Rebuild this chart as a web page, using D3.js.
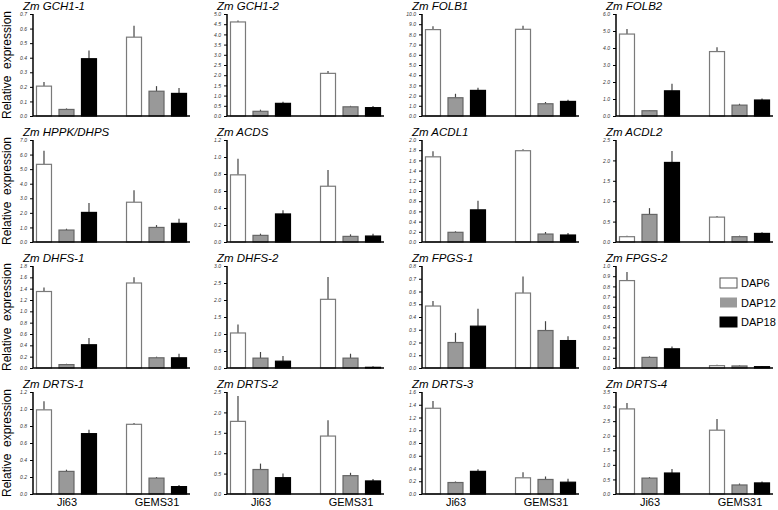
<!DOCTYPE html>
<html><head><meta charset="utf-8">
<script src="https://cdn.jsdelivr.net/npm/d3@7/dist/d3.min.js"></script>
<style>body{margin:0;background:#fff}svg{display:block}text{font-family:"Liberation Sans",Arial,sans-serif}</style>
</head><body><svg id="c" width="778" height="510"></svg>
<script>
const genes = ["GCH1-1","GCH1-2","FOLB1","FOLB2","HPPK/DHPS","ACDS","ACDL1","ACDL2","DHFS-1","DHFS-2","FPGS-1","FPGS-2","DRTS-1","DRTS-2","DRTS-3","DRTS-4"];
const lines = ["Ji63","GEMS31"];
const series = ["DAP6","DAP12","DAP18"];
const yMax  = [0.7,5.0,10.0,6.0, 7.0,1.2,2.0,2.5, 1.8,3.0,0.8,1.0, 1.2,2.5,1.6,3.5];
const yStep = [0.1,0.5,1.0,1.0, 1.0,0.2,0.2,0.5, 0.2,0.5,0.1,0.1, 0.2,0.5,0.2,0.5];
// values per gene: [Ji63, GEMS31]
const dap6 = [[0.205,0.541],[4.61,2.09],[8.47,8.5],[4.82,3.79],[5.33,2.73],[0.79,0.656],[1.67,1.79],[0.13,0.61],[1.35,1.5],[1.03,2.02],[0.486,0.588],[0.857,0.023],[0.99,0.82],[1.78,1.42],[1.345,0.254],[2.92,2.19]];
const dap6Err = [[0.029,0.079],[0.07,0.12],[0.33,0.36],[0.30,0.25],[0.94,0.82],[0.19,0.19],[0.11,0.03],[0.025,0.03],[0.07,0.1],[0.25,0.66],[0.039,0.129],[0.083,0.009],[0.1,0.014],[0.62,0.39],[0.112,0.086],[0.2,0.38]];
const dap12 = [[0.045,0.17],[0.23,0.45],[1.79,1.2],[0.31,0.64],[0.82,1.0],[0.078,0.066],[0.19,0.156],[0.676,0.13],[0.06,0.18],[0.29,0.29],[0.20,0.294],[0.104,0.02],[0.266,0.187],[0.6,0.45],[0.18,0.228],[0.545,0.31]];
const dap12Err = [[0.007,0.035],[0.08,0.05],[0.39,0.17],[0.04,0.08],[0.09,0.16],[0.02,0.024],[0.02,0.04],[0.154,0.025],[0.015,0.02],[0.18,0.13],[0.076,0.073],[0.01,0.006],[0.02,0.013],[0.145,0.07],[0.016,0.047],[0.035,0.05]];
const dap18 = [[0.393,0.155],[0.62,0.41],[2.51,1.43],[1.48,0.94],[2.03,1.28],[0.33,0.07],[0.63,0.137],[1.95,0.21],[0.41,0.18],[0.2,0.02],[0.328,0.215],[0.188,0.013],[0.71,0.087],[0.4,0.32],[0.355,0.185],[0.72,0.38]];
const dap18Err = [[0.057,0.038],[0.08,0.08],[0.26,0.17],[0.41,0.09],[0.64,0.32],[0.045,0.028],[0.18,0.04],[0.28,0.03],[0.12,0.07],[0.15,0.03],[0.137,0.034],[0.022,0.007],[0.045,0.02],[0.1,0.05],[0.035,0.053],[0.14,0.05]];

const vals = [dap6, dap12, dap18];
const errs = [dap6Err, dap12Err, dap18Err];
const fills = ["#ffffff","#999999","#000000"];
const strokes = ["#7a7a7a","#666666","#000000"];

const svg = d3.select("#c");
const defs = svg.append("defs");
const pat = defs.append("pattern").attr("id","chk").attr("width",2).attr("height",2).attr("patternUnits","userSpaceOnUse");
pat.append("rect").attr("width",2).attr("height",2).attr("fill","#bdbdbd");
pat.append("rect").attr("width",1).attr("height",1).attr("fill","#777");
pat.append("rect").attr("x",1).attr("y",1).attr("width",1).attr("height",1).attr("fill","#777");

const colX = [33,227,422,616];
const rowBottom = [116,242,368,494];
const W = 157, H = 102;

const gx = d3.scalePoint().domain(lines).range([0,W]).padding(0.372);
const bx = d3.scaleBand().domain(series).range([-33.75,33.75]).paddingInner(1/3).paddingOuter(1/6);

genes.forEach((gene,i)=>{
  const r = Math.floor(i/4), c = i%4;
  const g = svg.append("g").attr("transform",`translate(${colX[c]},${rowBottom[r]-H})`);
  const y = d3.scaleLinear().domain([0,yMax[i]]).range([H,0]);
  const tv = d3.range(0, yMax[i]+yStep[i]/2, yStep[i]);
  // bars
  lines.forEach((ln,li)=>{
    series.forEach((s,si)=>{
      const v = vals[si][i][li], e = errs[si][i][li];
      const x0 = gx(ln)+bx(s);
      const cx = x0 + bx.bandwidth()/2;
      g.append("line").attr("x1",cx).attr("x2",cx).attr("y1",y(v)).attr("y2",y(v+e))
        .attr("stroke","#444").attr("stroke-width",1.2);
      g.append("rect").attr("x",x0).attr("y",y(v)).attr("width",bx.bandwidth()).attr("height",H-y(v))
        .attr("fill",fills[si]).attr("stroke",strokes[si]).attr("stroke-width",1.2);
    });
  });
  // y axis
  const ya = d3.axisLeft(y).tickValues(tv).tickSize(3).tickPadding(3).tickFormat(d3.format(".1f"));
  const yg = g.append("g").call(ya);
  yg.select(".domain").attr("stroke","#000").attr("stroke-width",1.5).attr("d",`M0,${H}V0`);
  yg.selectAll(".tick line").attr("stroke","#000");
  yg.selectAll(".tick text").attr("font-size",5).attr("font-style","italic").attr("fill","#333")
    .style("font-family","'Liberation Sans',Arial,sans-serif");
  // x axis
  const xa = d3.axisBottom(gx).tickSize(0).tickPadding(4);
  const xg = g.append("g").attr("transform",`translate(0,${H})`).call(xa);
  xg.select(".domain").attr("stroke","#000").attr("stroke-width",1.5).attr("d",`M0,0H${W}`);
  if (r===3) {
    xg.selectAll(".tick text").attr("font-size",11).attr("fill","#000")
      .style("font-family","'Liberation Sans',Arial,sans-serif");
  } else {
    xg.selectAll(".tick text").remove();
  }
  // title
  g.append("text").attr("x",-10).attr("y",-4).attr("font-size",11.5).attr("font-style","italic")
    .attr("fill","#000").text("Zm " + gene);
  // y label
  if (c===0) {
    svg.append("text").attr("transform",`translate(11,${rowBottom[r]-H/2}) rotate(-90)`)
      .attr("text-anchor","middle").attr("font-size",12).attr("fill","#000")
      .attr("xml:space","preserve").style("white-space","pre").text("Relative  expression");
  }
});

// legend
const lg = svg.append("g").attr("transform","translate(720,278)");
series.forEach((s,si)=>{
  const gg = lg.append("g").attr("transform",`translate(0,${si*19.5})`);
  gg.append("rect").attr("width",17).attr("height",10)
    .attr("fill", si===1 ? "url(#chk)" : fills[si])
    .attr("stroke", si===0 ? "#555" : (si===1 ? "none" : "#000")).attr("stroke-width",1);
  gg.append("text").attr("x",21).attr("y",9).attr("font-size",11).attr("fill","#000").text(s);
});
</script></body></html>
